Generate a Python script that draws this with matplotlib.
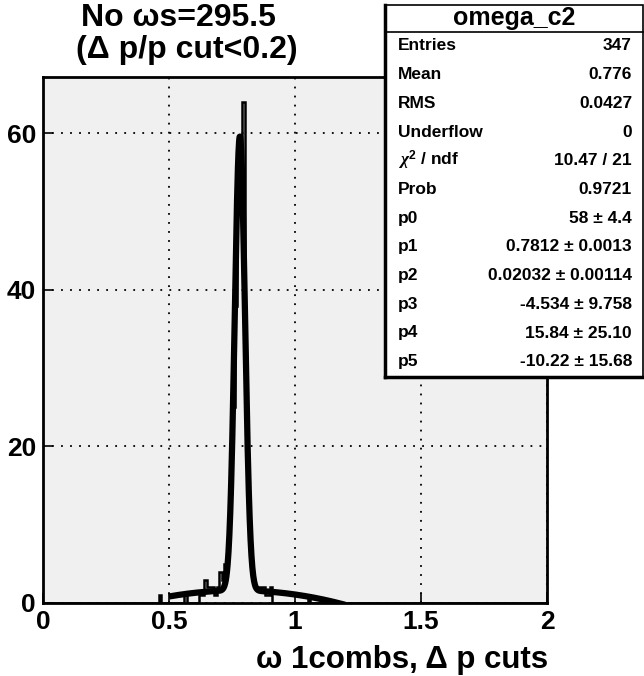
import numpy as np
import matplotlib.pyplot as plt
from matplotlib.patches import Rectangle

# histogram contents (bin width 0.01 over 0..2)
bin_left = [0.46, 0.56, 0.62, 0.63, 0.64, 0.65, 0.66, 0.67, 0.68, 0.69,
            0.70, 0.71, 0.72, 0.73, 0.74, 0.75, 0.76, 0.77, 0.78, 0.79,
            0.80, 0.81, 0.82, 0.83, 0.84, 0.85, 0.86, 0.87, 0.88, 0.89,
            0.90, 1.05]
bin_count = [1, 1, 1, 1, 3, 2, 2, 2, 1, 2,
             4, 3, 5, 7, 14, 25, 38, 50, 58, 64,
             28, 13, 6, 3, 2, 2, 2, 2, 1, 1,
             2, 1]
n_bins = 200
x_lo, x_hi = 0.0, 2.0

# gaus + pol2 fit from the stats box
fit_p = [58, 0.7812, 0.02032, -4.534, 15.84, -10.22]
fit_lo, fit_hi = 0.5, 1.2

stat_names = ["Entries", "Mean", "RMS", "Underflow", r"$\chi^2$ / ndf", "Prob",
              "p0", "p1", "p2", "p3", "p4", "p5"]
stat_vals = ["347", "0.776", "0.0427", "0", "10.47 / 21", "0.9721",
             "58 ± 4.4", "0.7812 ± 0.0013", "0.02032 ± 0.00114",
             "-4.534 ± 9.758", "15.84 ± 25.10", "-10.22 ± 15.68"]

FONT = ["Liberation Sans", "DejaVu Sans"]
plt.rcParams["font.family"] = FONT
plt.rcParams["font.weight"] = "bold"
plt.rcParams["mathtext.fontset"] = "custom"
plt.rcParams["mathtext.rm"] = "Liberation Sans:bold"
plt.rcParams["mathtext.it"] = "Liberation Serif:italic"

W, H = 644, 676
fig = plt.figure(figsize=(W / 100, H / 100), dpi=100)
fig.patch.set_facecolor("white")

ax = fig.add_axes([43 / W, 1 - 603 / H, 504 / W, 526 / H])
ax.set_facecolor("#f0f0f0")

edges = np.linspace(x_lo, x_hi, n_bins + 1)
counts = np.zeros(n_bins)
for lo, c in zip(bin_left, bin_count):
    counts[int(round((lo - x_lo) / 0.01))] = c
ax.stairs(counts, edges, color="black", lw=1.8, zorder=3)

xf = np.linspace(fit_lo, fit_hi, 600)
p0, p1, p2, p3, p4, p5 = fit_p
yf = p0 * np.exp(-0.5 * ((xf - p1) / p2) ** 2) + p3 + p4 * xf + p5 * xf ** 2
ax.plot(xf, yf, color="black", lw=4.5, zorder=4, solid_capstyle="butt")

ax.set_xlim(x_lo, x_hi)
ax.set_ylim(0, 64 * 1.05)
ax.set_xticks([0, 0.5, 1, 1.5, 2])
ax.set_xticklabels(["0", "0.5", "1", "1.5", "2"])
ax.set_yticks([0, 20, 40, 60])
ax.tick_params(direction="in", length=7, width=1.2, labelsize=19, pad=5)
for lab in ax.get_xticklabels() + ax.get_yticklabels():
    lab.set_fontweight("bold")
ax.grid(True, color="black", lw=1.3, linestyle=(0, (1, 4)))
for s in ax.spines.values():
    s.set_linewidth(2)

fig.text(548 / W, 1 - 660 / H, "ω 1combs, Δ p cuts", ha="right", va="center",
         fontsize=22.5, fontweight="bold")

fig.text(178 / W, 1 - 18 / H, "No ωs=295.5", ha="center", va="center",
         fontsize=23, fontweight="bold")
fig.text(187 / W, 1 - 50 / H, "(Δ p/p cut<0.2)", ha="center", va="center",
         fontsize=23, fontweight="bold")

# stats box
bx0, by0, bx1, by1 = 385, 5, 643, 377
fig.patches.append(Rectangle((bx0 / W, 1 - by1 / H), (bx1 - bx0) / W, (by1 - by0) / H,
                             transform=fig.transFigure, facecolor="white",
                             edgecolor="black", lw=1.2, zorder=5))
fig.add_artist(plt.Line2D([bx0 / W, bx0 / W], [1 - by1 / H, 1 - by0 / H],
                          color="black", lw=2.5, zorder=6))
fig.add_artist(plt.Line2D([bx0 / W, bx1 / W], [1 - by1 / H, 1 - by1 / H],
                          color="black", lw=2.5, zorder=6))
fig.add_artist(plt.Line2D([bx0 / W, bx1 / W], [1 - 32 / H, 1 - 32 / H],
                          color="black", lw=1.2, zorder=6))
fig.text((bx0 + bx1) / 2 / W, 1 - 18.5 / H, "omega_c2", ha="center", va="center",
         fontsize=18, fontweight="bold", zorder=7)
row0, drow = 46, 28.7
for i, (nm, v) in enumerate(zip(stat_names, stat_vals)):
    y = 1 - (row0 + i * drow) / H
    fig.text(398 / W, y, nm, ha="left", va="center", fontsize=12.5,
             fontweight="bold", zorder=7)
    fig.text(632 / W, y, v, ha="right", va="center", fontsize=12.5,
             fontweight="bold", zorder=7)

fig.savefig("out.png", dpi=100)
